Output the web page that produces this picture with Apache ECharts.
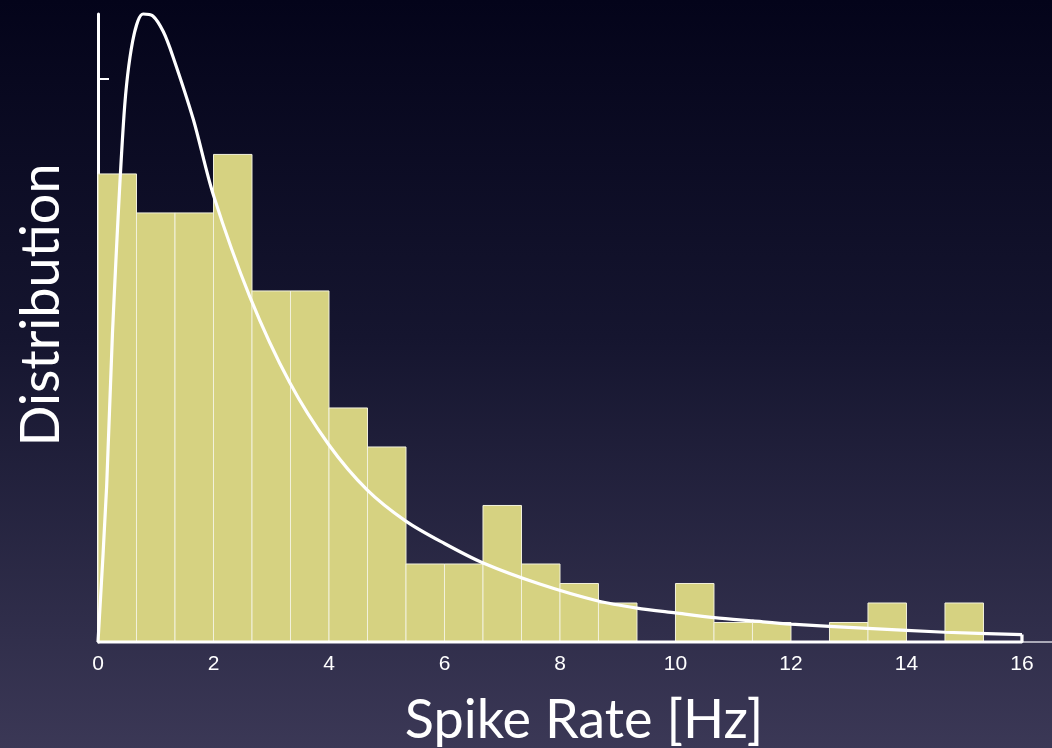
<!DOCTYPE html>
<html>
<head>
<meta charset="utf-8">
<title>Spike Rate Distribution</title>
<script src="https://cdn.jsdelivr.net/npm/echarts@6/dist/echarts.min.js"></script>
<style>
  html, body { margin: 0; padding: 0; width: 1052px; height: 748px; overflow: hidden; }
  #chart { width: 1052px; height: 748px; }
</style>
</head>
<body>
<div id="chart"></div>
<script>
// Histogram of spike rates: bins of 2/3 Hz from 0 to 16 Hz (counts per bin)
const binWidth = 2 / 3;
const binCounts = [24, 22, 22, 25, 18, 18, 12, 10, 4, 4, 7, 4,
                   3, 2, 0, 3, 1, 1, 0, 1, 2, 0, 2, 0];

// Fitted density curve, scaled to counts: [rate (Hz), height]
const fitCurve = [
  [0, 0], [0.15, 8], [0.25, 15.8], [0.45, 27], [0.6, 30.8], [0.78, 32.2],
  [0.95, 32.1], [1.13, 31.3], [1.3, 30.0], [1.65, 26.8], [2.0, 22.9],
  [2.63, 17.7], [3.32, 13.3], [4.0, 10.1], [4.66, 7.8], [5.33, 6.2],
  [6.0, 5.05], [6.67, 4.05], [7.65, 2.97], [8.66, 2.1], [9.33, 1.74],
  [10.0, 1.49], [10.67, 1.25], [11.34, 1.08], [12.0, 0.92], [13.33, 0.7],
  [14.67, 0.5], [16.0, 0.38]
];

// x-axis tick labels and the single y-axis tick
const xTicks = [0, 2, 4, 6, 8, 10, 12, 14, 16];
const yTicks = [28.9];

const histData = binCounts.map((c, i) => [i * binWidth, (i + 1) * binWidth, c]);
// The curve outline closes back along the baseline
const lastPoint = fitCurve[fitCurve.length - 1];
const baselineReturn = [lastPoint, [lastPoint[0], 0], [0, 0]];

const chart = echarts.init(document.getElementById('chart'), null, { renderer: 'canvas' });

const curveStyle = { color: '#ffffff', width: 3.2 };

chart.setOption({
  backgroundColor: {
    type: 'linear', x: 0, y: 0, x2: 0, y2: 1,
    colorStops: [
      { offset: 0, color: '#04041a' },
      { offset: 0.45, color: '#15152f' },
      { offset: 1, color: '#3b3856' }
    ]
  },
  animation: false,
  grid: { left: 98, right: 0, top: 14, bottom: 106, outerBoundsMode: 'none', containLabel: false },
  xAxis: {
    type: 'value',
    min: 0,
    max: 16.52,
    interval: 2,
    name: 'Spike Rate [Hz]',
    nameLocation: 'middle',
    nameGap: 52,
    nameTextStyle: {
      color: '#ffffff', fontSize: 54, fontFamily: 'Lato',
      padding: [0, 0, 0, 18]
    },
    axisLine: { show: true, onZero: false, lineStyle: { color: '#d4d4dc', width: 1.5 } },
    axisTick: { show: false },
    splitLine: { show: false },
    axisLabel: {
      customValues: xTicks,
      color: '#ffffff', fontSize: 21, fontFamily: 'Liberation Sans', margin: 12
    }
  },
  yAxis: {
    type: 'value',
    min: 0,
    max: 32.2,
    name: 'Distribution',
    nameLocation: 'middle',
    nameGap: 29,
    nameTextStyle: {
      color: '#ffffff', fontSize: 54, fontFamily: 'Lato',
      padding: [0, 0, 0, 46]
    },
    axisLine: { show: true, lineStyle: { color: '#ffffff', width: 3 } },
    axisTick: {
      show: true, inside: true, length: 11, customValues: yTicks,
      lineStyle: { color: '#ffffff', width: 2 }
    },
    axisLabel: { show: false },
    splitLine: { show: false }
  },
  series: [
    {
      type: 'custom',
      name: 'counts',
      data: histData,
      encode: { x: [0, 1], y: 2 },
      z: 2,
      renderItem: function (params, api) {
        const count = api.value(2);
        if (!count) return null;
        const p0 = api.coord([api.value(0), count]);
        const p1 = api.coord([api.value(1), 0]);
        return {
          type: 'rect',
          shape: { x: p0[0], y: p0[1], width: p1[0] - p0[0], height: p1[1] - p0[1] },
          style: { fill: '#d6d281', stroke: '#f2f1dc', lineWidth: 1 }
        };
      }
    },
    {
      type: 'line',
      name: 'fit',
      data: fitCurve,
      z: 3,
      clip: false,
      symbol: 'none',
      smooth: 0.3,
      lineStyle: curveStyle
    },
    {
      type: 'line',
      name: 'fit-base',
      data: baselineReturn,
      z: 3,
      clip: false,
      symbol: 'none',
      lineStyle: curveStyle
    }
  ]
});
</script>
</body>
</html>
